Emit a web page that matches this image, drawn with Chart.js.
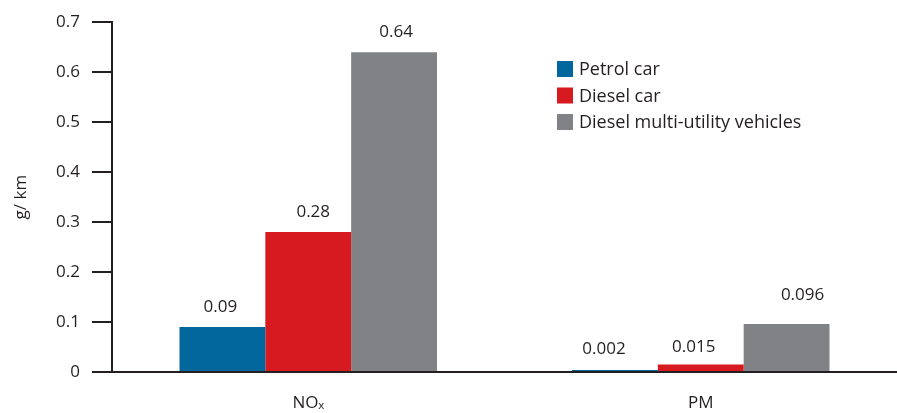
<!DOCTYPE html>
<html>
<head>
<meta charset="utf-8">
<script src="https://cdn.jsdelivr.net/npm/chart.js@4"></script>
<style>
html,body{margin:0;padding:0;background:#fff;}
#wrap{width:897px;height:413px;}
</style>
</head>
<body>
<div id="wrap"><canvas id="c" width="897" height="413"></canvas></div>
<script>
const categories = ['NOₓ', 'PM'];
const seriesNames = ['Petrol car', 'Diesel car', 'Diesel multi-utility vehicles'];
const petrolCar = [0.09, 0.002];
const dieselCar = [0.28, 0.015];
const dieselMUV = [0.64, 0.096];
const valueLabels = [['0.09', '0.002'], ['0.28', '0.015'], ['0.64', '0.096']];
const yTicks = [0, 0.1, 0.2, 0.3, 0.4, 0.5, 0.6, 0.7];
const colors = ['#00669c', '#d71920', '#808285'];
const textColor = '#231f20';
const FONT = "'Open Sans', sans-serif";

const labelPlugin = {
  id: 'valueLabels',
  afterDatasetsDraw(chart, args, opts) {
    const ctx = chart.ctx;
    ctx.save();
    ctx.font = '17px ' + FONT;
    ctx.fillStyle = textColor;
    ctx.textAlign = 'center';
    ctx.textBaseline = 'middle';
    chart.data.datasets.forEach((ds, di) => {
      const meta = chart.getDatasetMeta(di);
      meta.data.forEach((el, i) => {
        const off = opts.offsets[di][i];
        ctx.fillText(valueLabels[di][i], el.x + off[0], el.y - off[1]);
      });
    });
    ctx.restore();
  }
};

const legendPlugin = {
  id: 'customLegend',
  afterDraw(chart, args, opts) {
    const ctx = chart.ctx;
    ctx.save();
    ctx.font = '18px ' + FONT;
    ctx.textBaseline = 'middle';
    chart.data.datasets.forEach((ds, i) => {
      const y = opts.y + i * opts.step;
      ctx.fillStyle = ds.backgroundColor;
      ctx.fillRect(opts.x, y - 8, 16, 16);
      ctx.fillStyle = textColor;
      ctx.fillText(ds.label, opts.x + 22, y + 1);
    });
    ctx.restore();
  }
};

new Chart(document.getElementById('c'), {
  type: 'bar',
  data: {
    labels: categories,
    datasets: [
      { label: seriesNames[0], data: petrolCar, backgroundColor: colors[0] },
      { label: seriesNames[1], data: dieselCar, backgroundColor: colors[1] },
      { label: seriesNames[2], data: dieselMUV, backgroundColor: colors[2] }
    ]
  },
  options: {
    responsive: false,
    animation: false,
    devicePixelRatio: 1,
    layout: { padding: { top: 20, right: 0, left: 0, bottom: 0 } },
    datasets: { bar: { barPercentage: 1.0, categoryPercentage: 0.656, borderWidth: 0, minBarLength: 2 } },
    plugins: {
      legend: { display: false },
      tooltip: { enabled: false },
      valueLabels: {
        offsets: [[[-2, 20], [-11, 21]], [[5, 20], [-7, 17]], [[2, 20], [16, 29]]]
      },
      customLegend: { x: 557, y: 69, step: 26.5 }
    },
    scales: {
      x: {
        grid: { display: false, drawTicks: false },
        border: { display: true, color: textColor, width: 2 },
        ticks: { color: textColor, font: { family: FONT, size: 17 }, padding: 21 },
        afterFit(s) { s.height = 41; }
      },
      y: {
        min: 0,
        max: 0.7,
        afterBuildTicks(s) { s.ticks = yTicks.map(v => ({ value: v })); },
        ticks: {
          color: textColor,
          font: { family: FONT, size: 17 },
          padding: 12,
          callback: v => String(Math.round(v * 10) / 10)
        },
        grid: { drawOnChartArea: false, drawTicks: true, tickLength: 20, color: textColor, lineWidth: 2 },
        border: { display: true, color: textColor, width: 2 },
        title: { display: true, text: 'g/ km', color: textColor, font: { family: FONT, size: 17 }, padding: { top: 11, bottom: 0 } },
        afterFit(s) { s.width = 112; }
      }
    }
  },
  plugins: [labelPlugin, legendPlugin]
});
</script>
</body>
</html>
